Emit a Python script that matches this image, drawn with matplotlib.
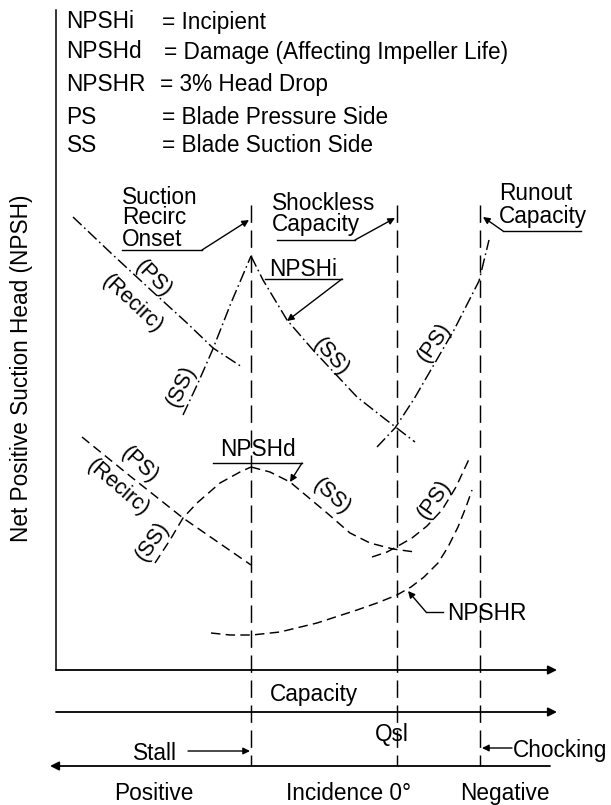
import matplotlib
matplotlib.use('Agg')
import matplotlib.pyplot as plt

plt.rcParams['font.family'] = ['Liberation Sans', 'DejaVu Sans']
plt.rcParams['lines.scale_dashes'] = False

# ---------------- data (capacity Q, NPSH H in arbitrary schematic units) ----------------
legend_symbols = ['NPSHi', 'NPSHd', 'NPSHR', 'PS', 'SS']
legend_meanings = ['= Incipient', '= Damage (Affecting Impeller Life)', '= 3% Head Drop',
                   '= Blade Pressure Side', '= Blade Suction Side']

q_recirc_onset = 195
q_shockless = 341
q_runout = 424

npshi_ps_recirc_q = [17, 57, 97, 131, 157, 186]
npshi_ps_recirc_h = [453, 415, 378, 347, 322, 303]
npshi_ss_low_q = [127, 142, 156.5, 175, 195]
npshi_ss_low_h = [255, 287, 320, 367, 414]
npshi_ss_high_q = [195, 207, 231, 257, 301, 329, 359]
npshi_ss_high_h = [414, 390, 350, 320, 273, 251, 228]
npshi_ps_high_q = [321, 339, 358, 398, 423, 433]
npshi_ps_high_h = [223, 242, 271, 340, 389, 430]

npshd_ps_recirc_q = [26, 74, 127, 195]
npshd_ps_recirc_h = [233, 194, 152, 105]
npshd_ss_low_q = [99, 114, 127, 141, 164, 184, 195]
npshd_ss_low_h = [107, 130, 152, 167, 187, 198, 203]
npshd_ss_high_q = [195, 214, 234, 271, 294, 314, 337, 359]
npshd_ss_high_h = [203, 198, 188, 157, 137, 127, 121, 118]
npshd_ps_high_q = [316, 331, 342, 356, 371, 386, 400, 414]
npshd_ps_high_h = [113, 118, 124, 132, 144, 160, 183, 213]

npshr_q = [155, 174, 196, 224, 261, 301, 321, 341, 355, 368, 382, 392, 402, 410, 416]
npshr_h = [37, 35, 35, 38, 47, 60, 67, 75, 83, 93, 107, 123, 143, 163, 180]

# ---------------- figure ----------------
fig = plt.figure(figsize=(6.11, 8.05), dpi=100)
ax = fig.add_axes([0, 0, 1, 1])
ax.set_xlim(-56, 555)
ax.set_ylim(-135, 670)
ax.axis('off')

FS = 16.3
FSL = 15.5
K = 'black'
dashdot = (0, (8.5, 2.6, 1.2, 2.6))
dashed = (0, (6.8, 3.8))
vdash = (0, (12.5, 5.5))
LW = 1.05
D = -2  # text baseline nudge

def arrow(xy_from, xy_to, ms=11, lw=1.0):
    ax.annotate('', xy=xy_to, xytext=xy_from,
                arrowprops=dict(arrowstyle='-|>', color=K, lw=lw, shrinkA=0, shrinkB=0,
                                mutation_scale=ms))

def txt(x, y, s, **kw):
    kw.setdefault('fontsize', FS)
    kw.setdefault('va', 'center')
    ax.text(x, y + D, s, **kw)

# axes
ax.plot([0, 0], [660, 0], color=K, lw=1.1)
arrow((0, 0), (501, 0), ms=13, lw=1.3)
arrow((0, -42), (501, -42), ms=13, lw=1.3)
arrow((494, -96), (-6, -96), ms=13, lw=1.3)

# vertical reference lines
for q in (q_recirc_onset, q_shockless, q_runout):
    ax.plot([q, q], [465, -96], color=K, lw=LW, linestyle=vdash)

# NPSHi curves
for qq, hh in ((npshi_ps_recirc_q, npshi_ps_recirc_h), (npshi_ss_low_q, npshi_ss_low_h),
               (npshi_ss_high_q, npshi_ss_high_h), (npshi_ps_high_q, npshi_ps_high_h)):
    ax.plot(qq, hh, color=K, lw=LW, linestyle=dashdot)

# NPSHd curves
for qq, hh in ((npshd_ps_recirc_q, npshd_ps_recirc_h), (npshd_ss_low_q, npshd_ss_low_h),
               (npshd_ss_high_q, npshd_ss_high_h), (npshd_ps_high_q, npshd_ps_high_h)):
    ax.plot(qq, hh, color=K, lw=LW, linestyle=dashed)

# NPSHR
ax.plot(npshr_q, npshr_h, color=K, lw=LW, linestyle=dashed)

# legend block
legend_rows = [650, 620, 587.5, 554, 527]
eq_x = [105.5, 108, 104.5, 105.5, 105.5]
for s, m, y, ex in zip(legend_symbols, legend_meanings, legend_rows, eq_x):
    txt(10.5, y, s, ha='left')
    txt(ex, y, m, ha='left')

# y label
ax.text(-34.5, 302, 'Net Positive Suction Head (NPSH)', fontsize=FS, rotation=90,
        ha='center', va='center')

# callouts
for t, y in zip(['Suction', 'Recirc', 'Onset'], [475, 454, 433]):
    txt(66, y, t, ha='left')
ax.plot([66, 146], [420, 420], color=K, lw=1.0)
arrow((146, 420), (193, 450), ms=10)

for t, y in zip(['Shockless', 'Capacity'], [468, 447]):
    txt(215.5, y, t, ha='left')
ax.plot([221, 299], [430, 430], color=K, lw=1.0)
arrow((299, 430), (339, 452), ms=10)

for t, y in zip(['Runout', 'Capacity'], [478, 455]):
    txt(443, y, t, ha='left')
ax.plot([447, 525], [439, 439], color=K, lw=1.0)
arrow((447, 439), (427, 453), ms=10)

txt(213, 402, 'NPSHi', ha='left')
ax.plot([209, 286], [391, 391], color=K, lw=1.0)
arrow((286, 391), (231, 349), ms=10)

txt(201.5, 222, 'NPSHd', ha='center')
ax.plot([157, 246], [207, 207], color=K, lw=1.0)
arrow((246, 207), (234, 188), ms=10)

txt(391, 58, 'NPSHR', ha='left')
ax.plot([387, 370], [58, 58], color=K, lw=1.0)
arrow((370, 58), (352, 79), ms=10)

# curve labels
curve_labels = [
    ('(PS)', 97, 391, -45), ('(Recirc)', 76, 366, -43), ('(SS)', 125, 284, 65),
    ('(SS)', 275, 313, -48), ('(PS)', 378, 328, 55),
    ('(PS)', 83, 205, -43), ('(Recirc)', 62, 182, -41), ('(SS)', 96, 129, 55),
    ('(SS)', 276, 173, -42), ('(PS)', 378, 171, 55),
]
for t, x, y, r in curve_labels:
    ax.text(x, y, t, fontsize=FSL, rotation=r, ha='center', va='center',
            rotation_mode='anchor')

# lower scale labels
txt(258, -22, 'Capacity', ha='center')
txt(336, -62, 'Qsl', ha='center')
txt(99, -81, 'Stall', ha='center')
arrow((132, -81), (194, -81), ms=10)
txt(457, -78, 'Chocking', ha='left')
arrow((456, -78), (426, -78), ms=10)
txt(98, -121, 'Positive', ha='center')
txt(293, -121, 'Incidence 0°', ha='center')
txt(449, -121, 'Negative', ha='center')

fig.savefig('out.png', dpi=100)
